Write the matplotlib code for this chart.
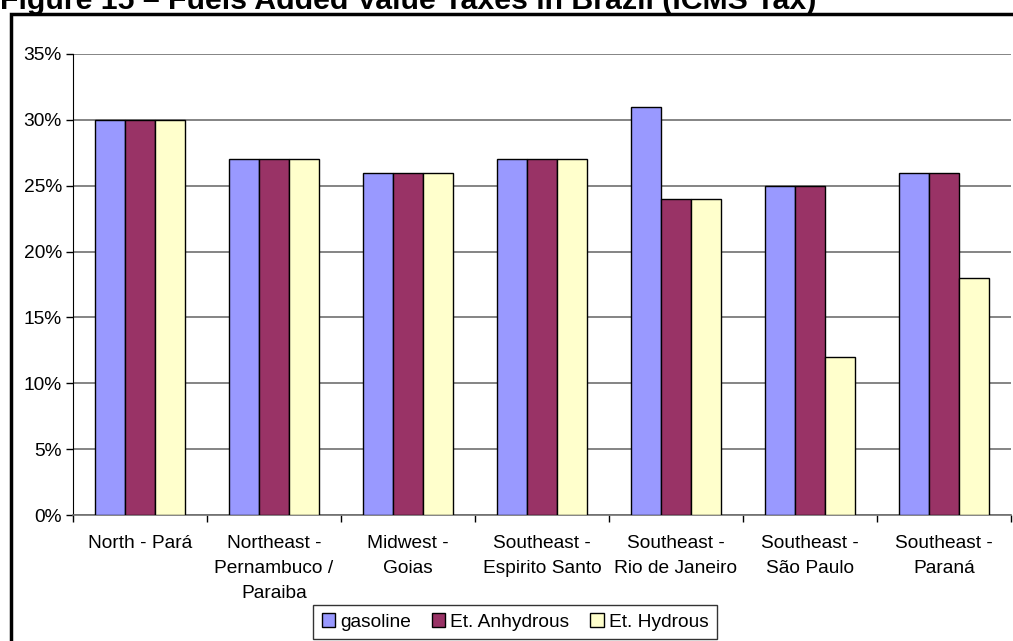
import numpy as np
import matplotlib
matplotlib.use("Agg")
import matplotlib.pyplot as plt
from matplotlib.patches import Rectangle
from matplotlib.ticker import FuncFormatter, FixedLocator

plt.rcParams['font.family'] = ['Liberation Sans', 'DejaVu Sans']

# data
regions = ["North - Pará", "Northeast -\nPernambuco /\nParaiba", "Midwest -\nGoias",
           "Southeast -\nEspirito Santo", "Southeast -\nRio de Janeiro",
           "Southeast -\nSão Paulo", "Southeast -\nParaná"]
gasoline = [30, 27, 26, 27, 31, 25, 26]
anhydrous = [30, 27, 26, 27, 24, 25, 26]
hydrous = [30, 27, 26, 27, 24, 12, 18]
series_names = ["gasoline", "Et. Anhydrous", "Et. Hydrous"]
colors = ["#9999FF", "#993366", "#FFFFCC"]

fig = plt.figure(figsize=(10.13, 6.41), dpi=100)
ax = fig.add_axes([73/1013, 126/641, 938/1013, 461/641])

x = np.arange(len(regions))
w = 1 / 4.5  # excel gap width 150%
for i, (vals, name, col) in enumerate(zip([gasoline, anhydrous, hydrous], series_names, colors)):
    ax.bar(x + (i - 1) * w, vals, width=w, color=col, edgecolor="black",
           linewidth=1, label=name, zorder=3)

ax.set_xlim(-0.5, len(regions) - 0.5)
ax.set_ylim(0, 35)
ax.set_yticks(np.arange(0, 36, 5))
ax.yaxis.set_major_formatter(FuncFormatter(lambda v, p: f"{v:.0f}%"))
ax.grid(axis="y", color="#707070", linewidth=1.2, zorder=0)

# category labels at centres, tick marks at boundaries
ax.set_xticks(x)
ax.set_xticklabels(regions, linespacing=1.62)
ax.tick_params(axis="x", length=0, pad=14.5, labelsize=13.8)
ax.xaxis.set_minor_locator(FixedLocator(np.arange(-0.5, len(regions), 1)))
ax.tick_params(axis="x", which="minor", length=5, color="black", width=1)
ax.tick_params(axis="y", length=5, color="black", width=1, labelsize=13.8, pad=3)

for s in ["top", "right"]:
    ax.spines[s].set_visible(False)
ax.spines["left"].set_color("black")
ax.spines["bottom"].set_color("#707070")
ax.spines["bottom"].set_linewidth(1.2)

leg = ax.legend(loc="center", bbox_to_anchor=(515/1013, 19/641),
                bbox_transform=fig.transFigure, ncol=3, frameon=True,
                fancybox=False, edgecolor="black", fontsize=13.8,
                handlelength=0.7, handleheight=0.7, handletextpad=0.25,
                columnspacing=1.1, borderpad=0.45, borderaxespad=0)
leg.get_frame().set_linewidth(1)

# chart area border
fig.patches.append(Rectangle((11/1013, -0.05), 1.1, 1 - 14/641 + 0.05,
                             transform=fig.transFigure, fill=False,
                             edgecolor="black", linewidth=2.5, zorder=0))

fig.text(0, 1 - 9/641, "Figure 15 – Fuels Added Value Taxes in Brazil (ICMS Tax)",
         fontsize=21.8, fontweight="bold", ha="left", va="baseline")

fig.savefig("out.png", dpi=100)
